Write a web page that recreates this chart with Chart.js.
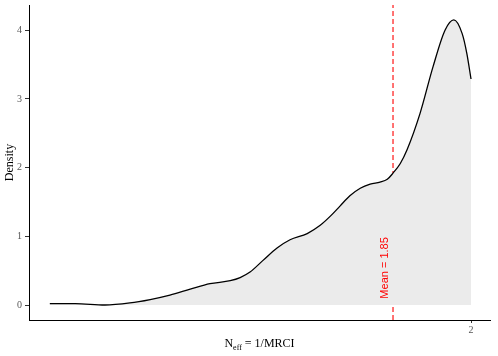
<!DOCTYPE html>
<html>
<head>
<meta charset="utf-8">
<script src="https://cdn.jsdelivr.net/npm/chart.js@4.4.1/dist/chart.umd.min.js"></script>
<style>
  html, body { margin: 0; padding: 0; background: #fff; }
  #wrap { width: 498px; height: 356px; position: relative; }
</style>
</head>
<body>
<div id="wrap"><canvas id="chart"></canvas></div>
<script>
// density estimate
const effValues = [1.190, 1.239, 1.296, 1.344, 1.383, 1.421, 1.460, 1.498, 1.537, 1.556,
  1.575, 1.600, 1.627, 1.652, 1.685, 1.710, 1.729, 1.748, 1.767, 1.787, 1.806, 1.825,
  1.839, 1.850, 1.864, 1.877, 1.902, 1.927, 1.950, 1.967, 1.983, 1.992, 2.000];
const densityValues = [0.02, 0.02, 0.00, 0.03, 0.08, 0.145, 0.23, 0.31, 0.355, 0.40,
  0.48, 0.65, 0.83, 0.95, 1.04, 1.16, 1.29, 1.44, 1.59, 1.70, 1.76, 1.79,
  1.83, 1.92, 2.06, 2.26, 2.79, 3.47, 4.00, 4.15, 3.95, 3.66, 3.29];
const meanValue = 1.85;
const meanLabel = 'Mean = 1.85';
const yTicks = [0, 1, 2, 3, 4];
const xTicks = [2];

const X_MIN = 1.15, X_MAX = 2.0365;
const Y_MIN = -0.218, Y_MAX = 4.367;

const curve = effValues.map((v, i) => ({ x: v, y: densityValues[i] }));

// mean label + x title with subscript
const annotations = {
  id: 'annotations',
  afterDatasetsDraw(chart) {
    const { ctx, scales: { x, y }, chartArea } = chart;
    ctx.save();
    ctx.fillStyle = '#ff0000';
    ctx.font = '11px "Liberation Sans", Arial, sans-serif';
    ctx.textAlign = 'center';
    ctx.textBaseline = 'middle';
    ctx.translate(x.getPixelForValue(meanValue) - 8, y.getPixelForValue(0.54));
    ctx.rotate(-Math.PI / 2);
    ctx.fillText(meanLabel, 0, 0);
    ctx.restore();

    // x axis title: N_eff = 1/MRCI
    ctx.save();
    ctx.fillStyle = '#000';
    ctx.textBaseline = 'alphabetic';
    ctx.textAlign = 'left';
    const big = '12px "Liberation Serif", "Times New Roman", serif';
    const small = '8px "Liberation Serif", "Times New Roman", serif';
    ctx.font = big;
    const wN = ctx.measureText('N').width;
    const wRest = ctx.measureText(' = 1/MRCI').width;
    ctx.font = small;
    const wSub = ctx.measureText('eff').width;
    const total = wN + wSub + wRest;
    let cx = (chartArea.left + chartArea.right) / 2 - total / 2;
    const base = 347;
    ctx.font = big;
    ctx.fillText('N', cx, base);
    cx += wN;
    ctx.font = small;
    ctx.fillText('eff', cx, base + 3);
    cx += wSub;
    ctx.font = big;
    ctx.fillText(' = 1/MRCI', cx, base);
    ctx.restore();
  }
};

new Chart(document.getElementById('chart'), {
  type: 'line',
  data: {
    datasets: [
      {
        data: curve,
        borderColor: '#000',
        borderWidth: 1.3,
        backgroundColor: '#ebebeb',
        fill: 'origin',
        pointRadius: 0,
        cubicInterpolationMode: 'monotone'
      },
      {
        data: [{ x: meanValue, y: Y_MIN }, { x: meanValue, y: Y_MAX }],
        borderColor: '#ff0000',
        borderWidth: 1.1,
        borderDash: [5, 3],
        pointRadius: 0,
        fill: false
      }
    ]
  },
  options: {
    responsive: true,
    maintainAspectRatio: false,
    animation: false,
    layout: { autoPadding: false, padding: { top: 5, right: 8, left: 0, bottom: 0 } },
    plugins: { legend: { display: false }, tooltip: { enabled: false } },
    scales: {
      x: {
        type: 'linear',
        min: X_MIN,
        max: X_MAX,
        afterBuildTicks: (s) => { s.ticks = xTicks.map(v => ({ value: v })); },
        afterFit: (s) => { s.height = 36; s.paddingLeft = 0; s.paddingRight = 0; },
        grid: { drawOnChartArea: false, drawTicks: true, tickLength: 3, color: '#333' },
        border: { display: true, color: '#000', width: 1 },
        ticks: {
          padding: 1,
          color: '#555',
          font: { family: '"Liberation Serif", "Times New Roman", serif', size: 10 }
        }
      },
      y: {
        type: 'linear',
        min: Y_MIN,
        max: Y_MAX,
        afterBuildTicks: (s) => { s.ticks = yTicks.map(v => ({ value: v })); },
        afterFit: (s) => { s.width = 29; s.paddingTop = 0; s.paddingBottom = 0; },
        grid: { drawOnChartArea: false, drawTicks: true, tickLength: 4, color: '#333' },
        border: { display: true, color: '#000', width: 1 },
        ticks: {
          padding: 3,
          color: '#555',
          font: { family: '"Liberation Serif", "Times New Roman", serif', size: 10 }
        },
        title: {
          display: true,
          text: 'Density',
          color: '#000',
          padding: 3,
          font: { family: '"Liberation Serif", "Times New Roman", serif', size: 12 }
        }
      }
    }
  },
  plugins: [annotations]
});
</script>
</body>
</html>
